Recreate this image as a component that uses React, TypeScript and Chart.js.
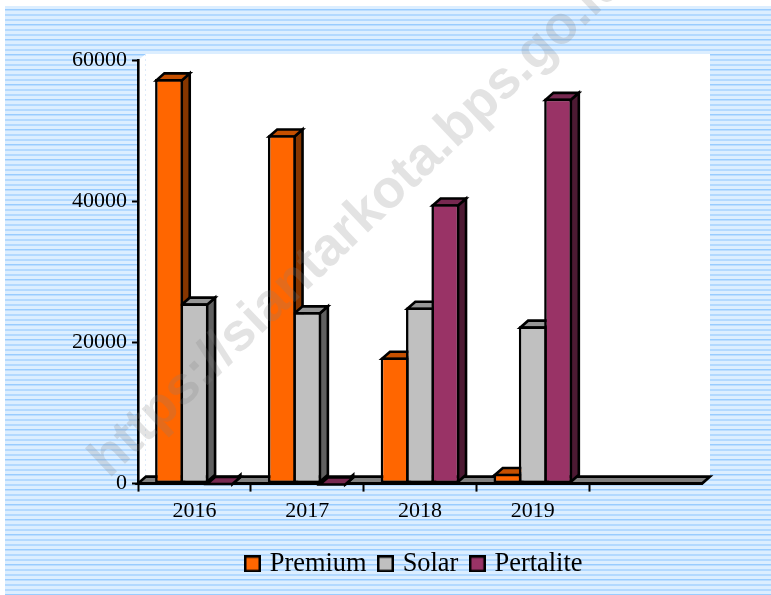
import React, { useEffect, useRef } from "react";
import { Chart, registerables } from "chart.js";

Chart.register(...registerables);

const categories = ["2016", "2017", "2018", "2019", ""];
const premium = [57300, 49350, 17870, 1400, 0];
const solar = [25530, 24300, 24960, 22270, 0];
const pertalite = [120, 60, 39570, 54540, 0];
const yTicks = [0, 20000, 40000, 60000];
const watermark = "https://siantarkota.bps.go.id";

const shades: Record<string, { top: string; side: string }> = {
  "#FF6600": { top: "#C65000", side: "#863600" },
  "#C0C0C0": { top: "#969696", side: "#606060" },
  "#993366": { top: "#772850", side: "#4D1A33" },
};
const DX = 8;
const DY = 7;
const LINE = 2.6;

const poly = (ctx: CanvasRenderingContext2D, pts: number[][], fill: string) => {
  ctx.beginPath();
  pts.forEach(([x, y], i) => (i ? ctx.lineTo(x, y) : ctx.moveTo(x, y)));
  ctx.closePath();
  ctx.fillStyle = fill;
  ctx.fill();
  ctx.lineWidth = LINE;
  ctx.strokeStyle = "#000";
  ctx.lineJoin = "miter";
  ctx.stroke();
};

const scenery = {
  id: "scenery",
  beforeDraw(chart: any) {
    const { ctx, chartArea: a, width, height, legend } = chart;
    legend.left = 129;
    legend.right = 702;
    ctx.save();
    // striped page
    ctx.fillStyle = "#DCEEFF";
    ctx.fillRect(5, 6, width - 5, height - 6);
    for (let y = 6, i = 0; y < height; y += 5, i++) {
      ctx.fillStyle = i % 3 === 0 ? "#99CCFF" : "#B3D9FF";
      ctx.fillRect(5, y + 3, width - 5, i % 3 === 0 ? 1.5 : 2);
    }
    // walls
    ctx.fillStyle = "#fff";
    ctx.beginPath();
    ctx.moveTo(a.left, a.top);
    ctx.lineTo(a.left + DX, a.top - DY + 1);
    ctx.lineTo(a.right + DX, a.top - DY + 1);
    ctx.lineTo(a.right + DX, a.bottom - DY);
    ctx.lineTo(a.left, a.bottom);
    ctx.closePath();
    ctx.fill();
    ctx.setLineDash([2, 3]);
    ctx.strokeStyle = "#DDEBFA";
    ctx.lineWidth = 1;
    ctx.beginPath();
    ctx.moveTo(a.left + DX - 0.5, a.top - DY + 1);
    ctx.lineTo(a.left + DX - 0.5, a.bottom - DY);
    ctx.stroke();
    ctx.setLineDash([]);
    // floor
    poly(
      ctx,
      [
        [a.left, a.bottom],
        [a.left + DX, a.bottom - DY],
        [a.right + DX, a.bottom - DY],
        [a.right, a.bottom],
      ],
      "#808080"
    );
    ctx.restore();
  },
  beforeDatasetsDraw(chart: any) {
    const { ctx } = chart;
    ctx.save();
    chart.data.datasets.forEach((ds: any, d: number) => {
      const s = shades[ds.backgroundColor];
      chart.getDatasetMeta(d).data.forEach((el: any, i: number) => {
        if (!ds.data[i]) return;
        const l = el.x - el.width / 2 + LINE / 2;
        const r = el.x + el.width / 2 - LINE / 2;
        const t = el.y + LINE / 2;
        const b = el.base - LINE / 2;
        poly(ctx, [[r, t], [r + DX, t - DY], [r + DX, b - DY], [r, b]], s.side);
        poly(ctx, [[l, t], [r, t], [r + DX, t - DY], [l + DX, t - DY]], s.top);
      });
    });
    ctx.restore();
  },
  afterDraw(chart: any) {
    const { ctx } = chart;
    ctx.save();
    ctx.translate(109, 479);
    ctx.rotate((-43.6 * Math.PI) / 180);
    ctx.font = "bold 53.5px 'Liberation Sans'";
    ctx.fillStyle = "rgba(128,128,128,0.22)";
    ctx.textBaseline = "alphabetic";
    ctx.fillText(watermark, 0, 0);
    ctx.restore();
  },
};

const swatch = (fill: string) => {
  const c = document.createElement("canvas");
  c.width = 17;
  c.height = 17;
  const x = c.getContext("2d")!;
  x.fillStyle = fill;
  x.strokeStyle = "#000";
  x.lineWidth = 2.5;
  x.fillRect(1, 1, 15, 15);
  x.strokeRect(1.25, 1.25, 14.5, 14.5);
  return c;
};

export default function App() {
  const ref = useRef<HTMLCanvasElement>(null);
  useEffect(() => {
    const mk = (label: string, data: number[], color: string) => ({
      label,
      data,
      backgroundColor: color,
      borderColor: "#000",
      borderWidth: LINE,
      borderSkipped: false,
      pointStyle: swatch(color),
      categoryPercentage: 0.674,
      barPercentage: 1.103,
    });
    const chart = new Chart(ref.current!, {
      type: "bar",
      data: {
        labels: categories,
        datasets: [
          mk("Premium", premium, "#FF6600"),
          mk("Solar", solar, "#C0C0C0"),
          mk("Pertalite", pertalite, "#993366"),
        ],
      } as any,
      plugins: [scenery],
      options: {
        responsive: false,
        animation: false,
        layout: { padding: { left: 60, right: 69, top: 60, bottom: 8 } },
        plugins: {
          tooltip: { enabled: false },
          legend: {
            position: "bottom",
            labels: {
              usePointStyle: true,
              pointStyleWidth: 8,
              boxHeight: 17,
              padding: 15,
              color: "#000",
              font: { family: "'Liberation Serif'", size: 26.4 },
            },
          },
        },
        scales: {
          x: {
            offset: true,
            afterFit: (s: any) => {
              s.height = 52;
            },
            grid: {
              offset: true,
              drawOnChartArea: false,
              tickLength: 8,
              tickWidth: 2,
              tickColor: (c: any) => (c.tick ? "#000" : "transparent"),
            },
            border: { color: "#000", width: 2.6 },
            ticks: {
              color: "#000",
              padding: 6,
              maxRotation: 0,
              autoSkip: false,
              font: { family: "'Liberation Serif'", size: 22 },
            },
          },
          y: {
            min: 0,
            max: 60000,
            afterFit: (s: any) => {
              s.width = 78;
            },
            afterBuildTicks: (s: any) => {
              s.ticks = yTicks.map((value) => ({ value }));
            },
            grid: { drawOnChartArea: false, tickLength: 6, tickWidth: 2, tickColor: "#000" },
            border: { color: "#000", width: 2.6 },
            ticks: {
              color: "#000",
              padding: 5,
              callback: (v: any) => String(v),
              font: { family: "'Liberation Serif'", size: 22 },
            },
          },
        },
      },
    } as any);
    return () => chart.destroy();
  }, []);
  return (
    <canvas
      ref={ref}
      width={771}
      height={595}
      style={{ position: "fixed", left: 0, top: 0, width: 771, height: 595, display: "block" }}
    />
  );
}
